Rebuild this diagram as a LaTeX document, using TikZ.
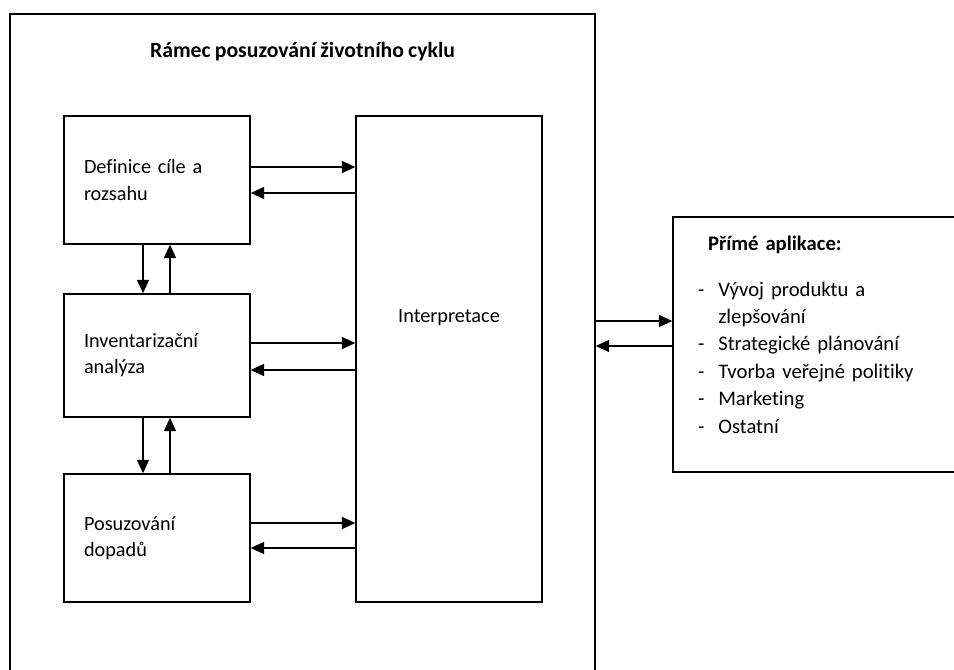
\documentclass[tikz,border=0pt]{standalone}
\usepackage{fontspec}
\setmainfont{Carlito}[Ligatures=NoCommon, WordSpace=0.85]
\usetikzlibrary{positioning}
\usetikzlibrary{arrows.meta}

\begin{document}
\begin{tikzpicture}[x=0.75pt, y=-0.75pt, line width=1.1pt, ->, >={Triangle[length=10pt,width=9pt]},
    font=\fontsize{15.2}{19.7}\selectfont,
    box/.style={draw, rectangle, -, align=left, inner xsep=15pt, text width=109.5pt, minimum width=139.5pt}]
    \clip (0,0) rectangle (954,670);
    \node[draw, rectangle, -, minimum width=438.75pt, minimum height=514.5pt] (frame) at (302.5,357) {};
    \node[font=\fontsize{16.3}{20}\selectfont\bfseries, below=17.5pt of frame.north] (title) {Rámec posuzování životního cyklu};
    \node[box, minimum height=96pt] (def) at (157,180) {Definice cíle a\\rozsahu};
    \node[box, minimum height=92.25pt] (inv) at (157,355.5) {Inventarizační\\analýza};
    \node[box, minimum height=96pt] (pos) at (157,538) {Posuzování\\dopadů};
    \node[draw, rectangle, -, minimum width=139.5pt, minimum height=364.5pt] (interp) at (449,359) {};
    \node (interptext) at (449,318) {Interpretace};
    \node[draw, rectangle, -, minimum width=215.25pt, minimum height=191.25pt, align=left, inner xsep=18.75pt, text width=177.75pt,
          font=\fontsize{15.5}{20.6}\selectfont] (apps) at (816.5,344.5) {%
        \begin{tabular}{@{}l@{\hspace{10.5pt}}l@{}}
        \multicolumn{2}{@{\hspace{7.5pt}}l}{\textbf{Přímé aplikace:}}\\[13.5pt]
        - & Vývoj produktu a\\
          & zlepšování\\
        - & Strategické plánování\\
        - & Tvorba veřejné politiky\\
        - & Marketing\\
        - & Ostatní\\[12pt]
        \end{tabular}};
    % definice <-> interpretace
    \draw (def.east |- 0,167) -- (interp.west |- 0,167);
    \draw (interp.west |- 0,193) -- (def.east |- 0,193);
    % inventarizace <-> interpretace
    \draw (inv.east |- 0,343) -- (interp.west |- 0,343);
    \draw (interp.west |- 0,370) -- (inv.east |- 0,370);
    % posuzovani <-> interpretace
    \draw (pos.east |- 0,523) -- (interp.west |- 0,523);
    \draw (interp.west |- 0,548) -- (pos.east |- 0,548);
    % svisle sipky
    \draw (def.south -| 143,0) -- (inv.north -| 143,0);
    \draw (inv.north -| 170,0) -- (def.south -| 170,0);
    \draw (inv.south -| 143,0) -- (pos.north -| 143,0);
    \draw (pos.north -| 170,0) -- (inv.south -| 170,0);
    % ramec <-> aplikace
    \draw (frame.east |- 0,321) -- (apps.west |- 0,321);
    \draw (apps.west |- 0,346) -- (frame.east |- 0,346);
\end{tikzpicture}
\end{document}
